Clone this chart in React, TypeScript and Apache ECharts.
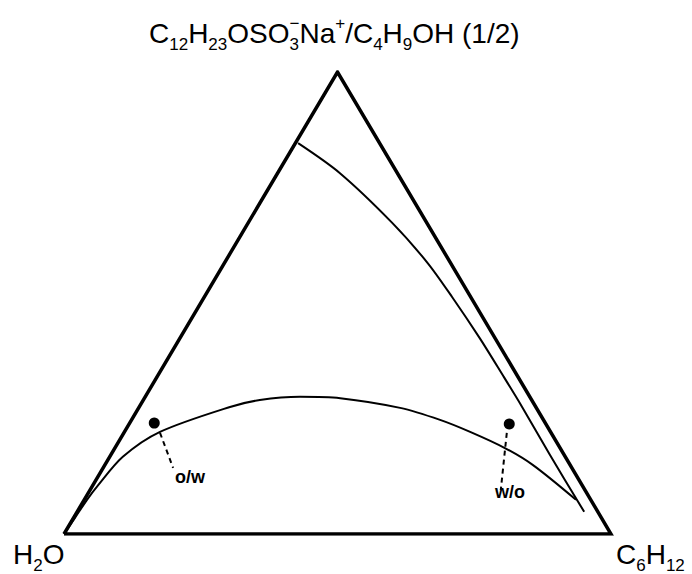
import React, { useEffect, useRef } from "react";
import * as echarts from "echarts";

// Ternary compositions in percent: oil = C6H12 fraction, surf = surfactant/alcohol fraction
const cornerOil = [0, 100, 0, 0];
const cornerSurf = [0, 0, 100, 0];

const upperOil = [0.5, 11.4, 26.4, 37.1, 45.3, 54.8, 63.0, 70.0, 80.3, 92.7];
const upperSurf = [84.6, 78.1, 67.3, 58.7, 51.3, 42.4, 34.4, 27.5, 17.1, 4.8];

const lowerOil = [0, 0.25, 0.5, 0.9, 2.4, 6.5, 16.6, 21.3, 28.3, 35.8, 47.8, 56.4, 63.2, 71.3, 78.3, 89.9];
const lowerSurf = [0, 3.5, 7.4, 10.2, 16.7, 22.1, 27.5, 29.0, 29.7, 29.4, 27.3, 24.7, 22.1, 18.6, 14.9, 7.4];

const dotOil = [4.5, 69.5];
const dotSurf = [24.0, 23.8];

const leaderOW_Oil = [6.6, 12.8];
const leaderOW_Surf = [21.9, 14.3];
const leaderWO_Oil = [70.0, 75.1];
const leaderWO_Surf = [21.9, 9.5];

const labelNames = ["o/w", "w/o"];
const labelOil = [16.9, 77.0];
const labelSurf = [12.3, 9.1];

const FONT = '"Liberation Sans", Arial, Helvetica, sans-serif';

const toXY = (o: number, s: number) => [o + s / 2, s];
const project = (oil: number[], surf: number[]) => oil.map((o, i) => toXY(o, surf[i]));

const base = { fontFamily: FONT, color: "#000", fontWeight: "normal", verticalAlign: "top" };
const richStyles = {
  m: { ...base, fontSize: 28, lineHeight: 29, padding: [10, 0, 0, 0] },
  s: { ...base, fontSize: 17, lineHeight: 17, padding: [27, 0, 0, 0] },
  s0: { ...base, fontSize: 17, lineHeight: 17, padding: [27, 0, 0, 0], width: 0 },
  p: { ...base, fontSize: 17, lineHeight: 17, padding: [6, 0, 0, 0] },
};

export default function App() {
  const ref = useRef<HTMLDivElement>(null);
  useEffect(() => {
    const chart = echarts.init(ref.current!, null, { renderer: "svg" });
    const line = (data: number[][], width: number, type: any = "solid", smooth: any = false) => ({
      type: "line",
      data,
      smooth,
      symbol: "none",
      silent: true,
      lineStyle: { color: "#000", width, type, join: "miter", miterLimit: 10, cap: "butt" },
    });
    const titleText = (text: string, left: number, top: number) => ({
      text,
      left,
      top,
      padding: 0,
      textStyle: { fontWeight: "normal", fontFamily: FONT, color: "#000", rich: richStyles },
    });
    const option: any = {
      animation: false,
      backgroundColor: "#fff",
      title: [
        titleText(
          "{m|C}{s|12}{m|H}{s|23}{m|OSO}{s0|3}{p|−}{m|Na}{p|+}{m|/C}{s|4}{m|H}{s|9}{m|OH (1/2)}",
          149,
          9
        ),
        titleText("{m|H}{s|2}{m|O}", 13, 530),
        titleText("{m|C}{s|6}{m|H}{s|12}", 616, 530),
      ],
      grid: { left: 64, right: 81, top: 72, bottom: 40 },
      xAxis: { type: "value", min: 0, max: 100, show: false },
      yAxis: { type: "value", min: 0, max: 100, show: false },
      series: [
        line(project(cornerOil, cornerSurf), 3.5),
        line(project(upperOil, upperSurf), 2, "solid", 0.3),
        line(project(lowerOil, lowerSurf), 2, "solid", 0.3),
        line(project(leaderOW_Oil, leaderOW_Surf), 2, [5, 4]),
        line(project(leaderWO_Oil, leaderWO_Surf), 2, [5, 4]),
        {
          type: "scatter",
          data: project(dotOil, dotSurf),
          symbol: "circle",
          symbolSize: 11,
          itemStyle: { color: "#000", opacity: 1 },
          silent: true,
        },
        {
          type: "scatter",
          data: labelNames.map((n, i) => ({ name: n, value: toXY(labelOil[i], labelSurf[i]) })),
          symbolSize: 0,
          silent: true,
          itemStyle: { opacity: 1 },
          label: {
            show: true,
            position: "inside",
            formatter: "{b}",
            fontSize: 18,
            fontWeight: "bold",
            fontFamily: FONT,
            color: "#000",
          },
        },
      ],
    };
    chart.setOption(option);
    return () => chart.dispose();
  }, []);
  return (
    <div
      ref={ref}
      style={{ position: "absolute", left: 0, top: 0, width: 692, height: 574, background: "#fff" }}
    />
  );
}
